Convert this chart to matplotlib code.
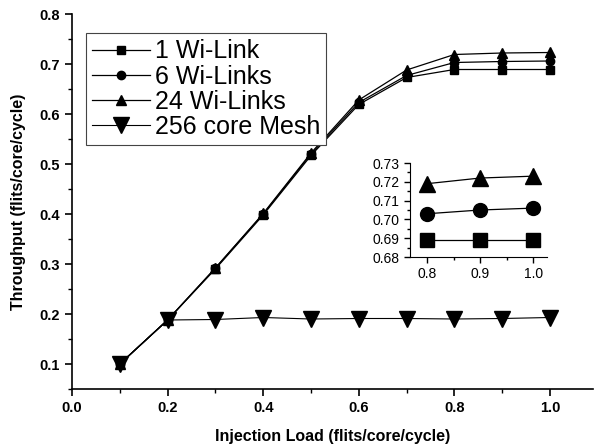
import numpy as np
import matplotlib
matplotlib.use("Agg")
import matplotlib.pyplot as plt
from matplotlib.ticker import MultipleLocator

plt.rcParams['font.family'] = ['Liberation Sans', 'DejaVu Sans']

load = [0.1, 0.2, 0.3, 0.4, 0.5, 0.6, 0.7, 0.8, 0.9, 1.0]
wi1 = [0.100, 0.188, 0.290, 0.398, 0.517, 0.619, 0.673, 0.689, 0.689, 0.689]
wi6 = [0.100, 0.188, 0.292, 0.400, 0.520, 0.623, 0.677, 0.703, 0.705, 0.706]
wi24 = [0.100, 0.188, 0.292, 0.401, 0.522, 0.628, 0.688, 0.719, 0.722, 0.723]
mesh = [0.100, 0.188, 0.189, 0.193, 0.190, 0.191, 0.191, 0.190, 0.191, 0.193]
labels = ['1 Wi-Link', '6 Wi-Links', '24 Wi-Links', '256 core Mesh']

fig = plt.figure(figsize=(5.94, 4.44), dpi=100)
ax = fig.add_axes([72/594, 1-389/444, 521/594, 375/444])

ax.plot(load, wi1, 'k-', marker='s', ms=6, lw=0.9, label=labels[0])
ax.plot(load, wi6, 'k-', marker='o', ms=6, lw=0.9, label=labels[1])
ax.plot(load, wi24, 'k-', marker='^', ms=7, lw=0.9, label=labels[2])
ax.plot(load, mesh, 'k-', marker='v', ms=11, lw=0.8, label=labels[3])

ax.set_xlim(0, 1.09)
ax.set_ylim(0.05, 0.8)
ax.xaxis.set_major_locator(MultipleLocator(0.2))
ax.xaxis.set_minor_locator(MultipleLocator(0.1))
ax.yaxis.set_major_locator(MultipleLocator(0.1))
ax.yaxis.set_minor_locator(MultipleLocator(0.05))
ax.tick_params(which='major', direction='out', length=5, width=1.2, labelsize=10.5)
ax.tick_params(which='minor', direction='out', length=3, width=1.0)
for t in ax.get_xticklabels() + ax.get_yticklabels():
    t.set_fontweight('bold')
ax.spines['top'].set_visible(False)
ax.spines['right'].set_visible(False)
ax.spines['left'].set_linewidth(1.2)
ax.spines['bottom'].set_linewidth(1.2)
ax.set_xlabel('Injection Load (flits/core/cycle)', fontsize=11.5, fontweight='bold', labelpad=10)
ax.set_ylabel('Throughput (flits/core/cycle)', fontsize=11.5, fontweight='bold', labelpad=10)

leg = ax.legend(loc='upper left', bbox_to_anchor=(0.027, 0.949), fontsize=18,
                frameon=True, fancybox=False, edgecolor='#444444', framealpha=1,
                handlelength=2.3, handletextpad=0.2, labelspacing=0.05,
                borderpad=0.25, borderaxespad=0)
leg.get_frame().set_linewidth(0.8)

ins = fig.add_axes([410/594, 1-257/444, 137/594, 94/444])
ins.plot(load[7:], wi1[7:], 'k-', marker='s', ms=9.5, lw=0.9)
ins.plot(load[7:], wi6[7:], 'k-', marker='o', ms=10, lw=0.9)
ins.plot(load[7:], wi24[7:], 'k-', marker='^', ms=12, lw=0.9)
ins.set_xlim(0.768, 1.026)
ins.set_ylim(0.68, 0.73)
ins.xaxis.set_major_locator(MultipleLocator(0.1))
ins.xaxis.set_minor_locator(MultipleLocator(0.05))
ins.yaxis.set_major_locator(MultipleLocator(0.01))
ins.yaxis.set_minor_locator(MultipleLocator(0.005))
ins.tick_params(which='major', direction='out', length=4, width=1.0, labelsize=10)
ins.tick_params(which='minor', direction='out', length=2.5, width=1.0)
ins.spines['top'].set_visible(False)
ins.spines['right'].set_visible(False)
ins.patch.set_alpha(0)

fig.savefig('out.png', dpi=100)
